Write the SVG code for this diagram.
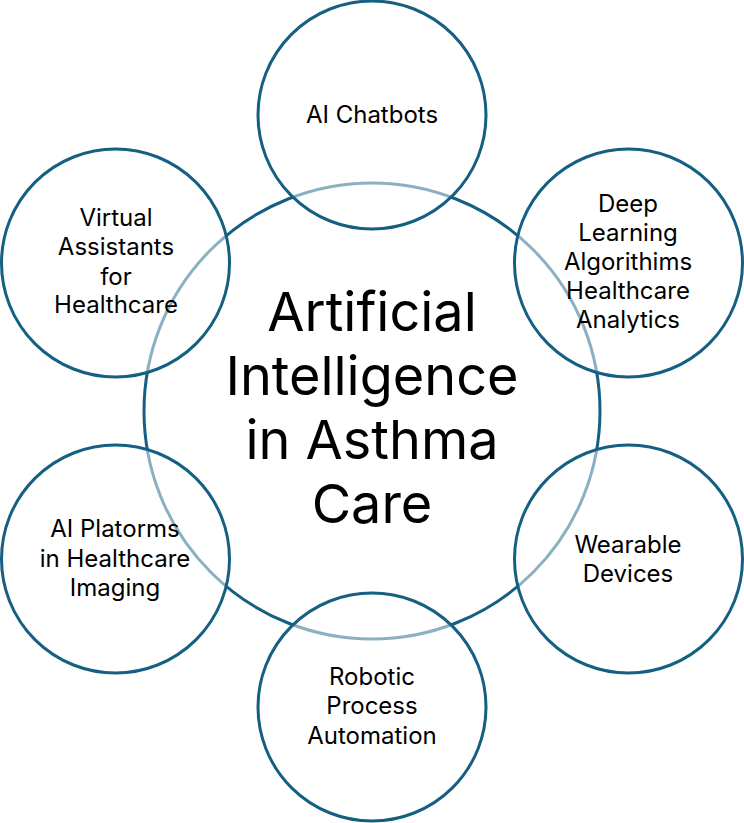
<svg xmlns="http://www.w3.org/2000/svg" width="744" height="823" viewBox="0 0 744 823">
<style>
.ring{fill:#ffffff;fill-opacity:0.5;stroke:#156082;stroke-width:3}
.core{fill:none;stroke:#156082;stroke-width:3}
.lbl{font-family:Inter,"Open Sans","Liberation Sans",sans-serif;font-size:24px;fill:#000;text-anchor:middle}
.big{font-family:Inter,"Open Sans","Liberation Sans",sans-serif;font-size:54px;fill:#000;text-anchor:middle}
</style>
<rect width="744" height="823" fill="#fff"/>
<g id="center">
<circle class="core" cx="372" cy="411" r="228"/>
</g>
<g id="ai-chatbots">
<circle class="ring" cx="372" cy="115" r="114"/>
<text class="lbl" x="372" y="123">AI Chatbots</text>
</g>
<g id="deep-learning">
<circle class="ring" cx="628.5" cy="263" r="114"/>
<text class="lbl" x="628" y="212">Deep</text>
<text class="lbl" x="628" y="241">Learning</text>
<text class="lbl" x="628" y="270">Algorithims</text>
<text class="lbl" x="628" y="299">Healthcare</text>
<text class="lbl" x="628" y="328">Analytics</text>
</g>
<g id="wearable">
<circle class="ring" cx="628.5" cy="559" r="114"/>
<text class="lbl" x="628" y="553">Wearable</text>
<text class="lbl" x="628" y="582">Devices</text>
</g>
<g id="robotic">
<circle class="ring" cx="372" cy="707" r="114"/>
<text class="lbl" x="372" y="685">Robotic</text>
<text class="lbl" x="372" y="714">Process</text>
<text class="lbl" x="372" y="744">Automation</text>
</g>
<g id="ai-platforms">
<circle class="ring" cx="115.5" cy="559" r="114"/>
<text class="lbl" x="115" y="537">AI Platorms</text>
<text class="lbl" x="115" y="567">in Healthcare</text>
<text class="lbl" x="115" y="596">Imaging</text>
</g>
<g id="virtual-assistants">
<circle class="ring" cx="115.5" cy="263" r="114"/>
<text class="lbl" x="116" y="226">Virtual</text>
<text class="lbl" x="116" y="255">Assistants</text>
<text class="lbl" x="116" y="285">for</text>
<text class="lbl" x="116" y="313">Healthcare</text>
</g>
<g id="center-label">
<text class="big" x="372" y="331">Artificial</text>
<text class="big" x="372" y="395">Intelligence</text>
<text class="big" x="372" y="459">in Asthma</text>
<text class="big" x="372" y="523">Care</text>
</g>
<g id="connectors"/>
</svg>
